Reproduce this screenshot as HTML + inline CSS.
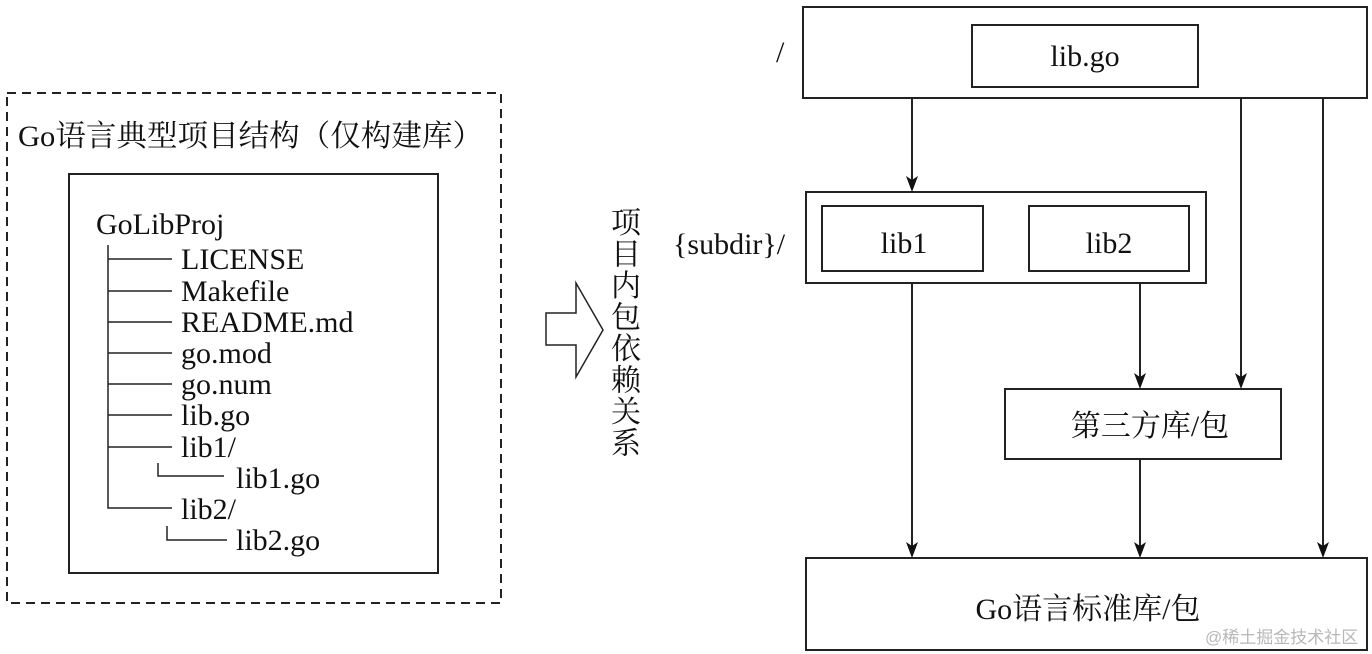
<!DOCTYPE html>
<html><head><meta charset="utf-8"><style>html,body{margin:0;padding:0;background:#fff}svg{display:block}</style></head>
<body>
<svg width="1372" height="654" viewBox="0 0 1372 654" xmlns="http://www.w3.org/2000/svg" font-family="'Liberation Serif','Noto Serif CJK SC',serif" fill="#111">
<g stroke="#222" stroke-width="2" fill="none">
<rect x="7" y="93" width="494" height="510" stroke-dasharray="9,6"/>
<rect x="69" y="174" width="369" height="399"/>
<path d="M108,245 V508 H172 M108,259 H172 M108,291 H172 M108,322 H172 M108,353 H172 M108,384 H172 M108,415 H172 M108,447 H172 M158,463 V476 H224 M167,526 V540 H227" stroke-width="1.5"/>
<path d="M546,313 H576 V283 L603,330 L576,377 V345 H546 Z" stroke-width="1.5"/>
<rect x="803" y="7" width="564" height="91"/>
<rect x="972" y="25" width="226" height="62"/>
<rect x="806" y="192" width="400" height="91"/>
<rect x="822" y="206" width="161" height="65"/>
<rect x="1029" y="206" width="160" height="65"/>
<rect x="1005" y="389" width="276" height="70"/>
<rect x="806" y="558" width="561" height="92"/>
<line x1="912" y1="98" x2="912" y2="182"/>
<line x1="1241" y1="98" x2="1241" y2="379"/>
<line x1="1323" y1="98" x2="1323" y2="548"/>
<line x1="912" y1="283" x2="912" y2="548"/>
<line x1="1140" y1="283" x2="1140" y2="379"/>
<line x1="1140" y1="459" x2="1140" y2="548"/>
</g>
<g fill="#111">
<path d="M906,176 L912,180 L918,176 L912,192 Z"/>
<path d="M1235,373 L1241,377 L1247,373 L1241,389 Z"/>
<path d="M1134,373 L1140,377 L1146,373 L1140,389 Z"/>
<path d="M1317,542 L1323,546 L1329,542 L1323,558 Z"/>
<path d="M906,542 L912,546 L918,542 L912,558 Z"/>
<path d="M1134,542 L1140,546 L1146,542 L1140,558 Z"/>
</g>
<g font-size="30">
<text x="18" y="146" textLength="465" lengthAdjust="spacingAndGlyphs">Go语言典型项目结构（仅构建库）</text>
<text x="96" y="234">GoLibProj</text>
<text x="181" y="269">LICENSE</text>
<text x="181" y="301">Makefile</text>
<text x="181" y="332">README.md</text>
<text x="181" y="363">go.mod</text>
<text x="181" y="394">go.num</text>
<text x="181" y="425">lib.go</text>
<text x="181" y="457">lib1/</text>
<text x="236" y="488">lib1.go</text>
<text x="181" y="519">lib2/</text>
<text x="236" y="550">lib2.go</text>
<text x="1085" y="66" text-anchor="middle">lib.go</text>
<text x="904" y="253" text-anchor="middle">lib1</text>
<text x="1109" y="253" text-anchor="middle">lib2</text>
<text x="1150" y="436" text-anchor="middle">第三方库/包</text>
<text x="1088" y="619" text-anchor="middle">Go语言标准库/包</text>
<text x="776" y="62">/</text>
<text x="673" y="254">{subdir}/</text>
</g>
<g font-size="30" text-anchor="middle">
<text x="626" y="233">项</text>
<text x="626" y="264.5">目</text>
<text x="626" y="296">内</text>
<text x="626" y="327.5">包</text>
<text x="626" y="359">依</text>
<text x="626" y="390.5">赖</text>
<text x="626" y="422">关</text>
<text x="626" y="453.5">系</text>
</g>
<text x="1205" y="643" font-size="17" fill="#b8b8b8" font-family="'Liberation Sans','Noto Sans CJK SC',sans-serif">@稀土掘金技术社区</text>
</svg>
</body></html>
